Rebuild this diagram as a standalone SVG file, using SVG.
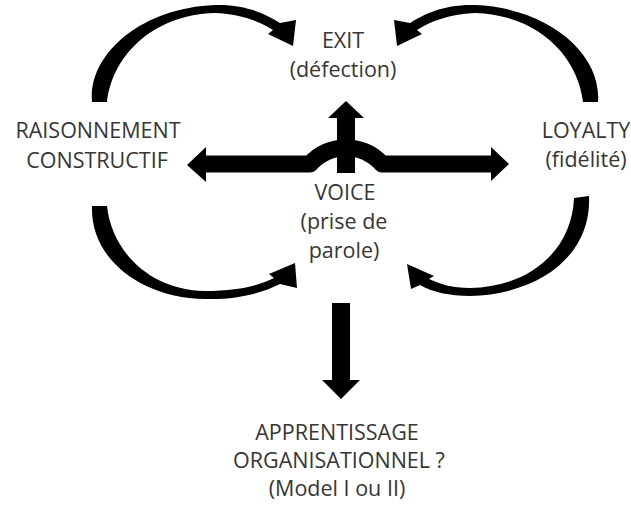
<svg xmlns="http://www.w3.org/2000/svg" width="631" height="506" viewBox="0 0 631 506">
  <style>
    .lbl { font-family: "Open Sans", "Liberation Sans", sans-serif; font-size: 21.5px; fill: #363636; text-anchor: middle; }
    .arrow { fill: #000; stroke: none; }
    .bar { fill: none; stroke: #000; stroke-width: 17; stroke-linejoin: round; }
  </style>
  <rect width="631" height="506" fill="#fff"/>

  <g id="connectors">
    <!-- curved arrows -->
    <path class="arrow" d="M92,102 C88,55 140,8 215,5 C245,4 266,14 280,23 L296,20 L293,46 L268,34 L273,30 C260,22 242,14 215,13 C150,15 112,58 107,102 Z"/>
    <path class="arrow" d="M598,102 C602,55 550,8 475,5 C445,4 424,14 410,23 L394,20 L397,46 L422,34 L417,30 C430,22 448,14 475,13 C540,15 578,58 583,102 Z"/>
    <path class="arrow" d="M92,206 C90,258 140,298 205,299 C240,300 264,292 280,284 L297,288 L295,263 L269,274 L274,278 C260,285 240,291 205,291 C150,290 112,252 107,206 Z"/>
    <path class="arrow" d="M589,196 C592,255 540,294 470,296 C450,296 432,292 420,285 L411,289 L407,264 L434,276 L429,279 C440,284 452,288 470,288 C530,287 572,250 574,198 Z"/>
    <!-- central cross arrow -->
    <path class="bar" d="M203,164 L310,164 A48.5,48.5 0 0 1 382,164 L494,164"/>
    <polygon class="arrow" points="187,165 206,147 206,182"/>
    <polygon class="arrow" points="509,164 491,147 491,181"/>
    <rect class="arrow" x="337" y="116" width="18" height="57"/>
    <polygon class="arrow" points="346,101 328,118 364,118"/>
    <!-- down arrow -->
    <rect class="arrow" x="332" y="303" width="18" height="78"/>
    <polygon class="arrow" points="322,380 360,380 341,399"/>
  </g>

  <g id="exit">
    <text class="lbl" x="343" y="48">EXIT</text>
    <text class="lbl" x="343" y="77">(défection)</text>
  </g>
  <g id="raisonnement">
    <text class="lbl" x="98" y="138">RAISONNEMENT</text>
    <text class="lbl" x="97" y="168">CONSTRUCTIF</text>
  </g>
  <g id="loyalty">
    <text class="lbl" x="586" y="138">LOYALTY</text>
    <text class="lbl" x="586" y="167">(fidélité)</text>
  </g>
  <g id="voice">
    <text class="lbl" x="345" y="200">VOICE</text>
    <text class="lbl" x="344" y="229">(prise de</text>
    <text class="lbl" x="344" y="258">parole)</text>
  </g>
  <g id="apprentissage">
    <text class="lbl" x="337" y="440">APPRENTISSAGE</text>
    <text class="lbl" x="339" y="468">ORGANISATIONNEL ?</text>
    <text class="lbl" x="337" y="496">(Model I ou II)</text>
  </g>
</svg>
